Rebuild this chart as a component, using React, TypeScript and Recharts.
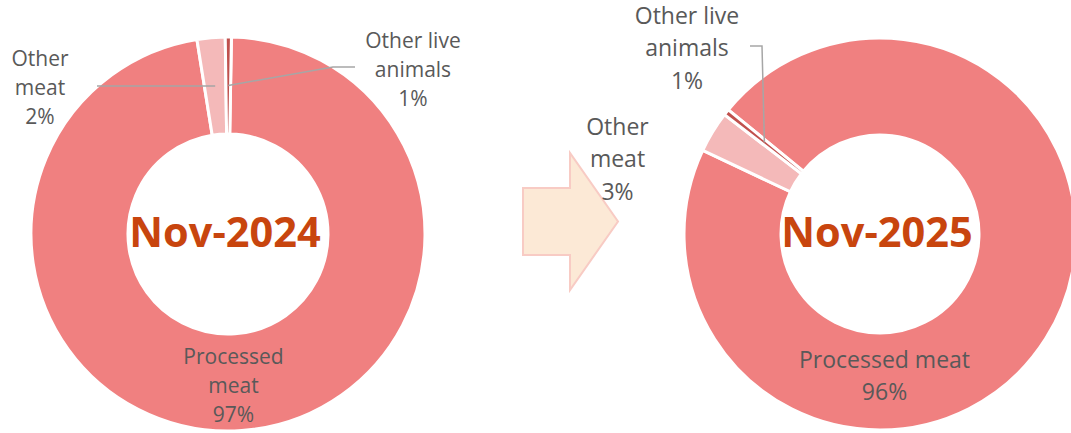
import { Cell, Pie, PieChart } from "recharts";

// share of each product group, in %
const categories = ["Processed meat", "Other meat", "Other live animals"];
const shares2024 = [97.2, 2.3, 0.5];
const shares2025 = [96.1, 3.4, 0.5];
const periods = ["Nov-2024", "Nov-2025"];
const COLORS = ["#F08080", "#F4B9B9", "#C0504D"];

const RAD = Math.PI / 180;
const W = 1071;
const H = 433;

interface LabelSpec {
  dx: number;
  dy: number;
  breakAfter: number;
  leader: number[][];
}
interface DonutLayout {
  cx: number;
  cy: number;
  inner: number;
  outer: number;
  start: number;
  fontSize: number;
  gap: number;
  labels: LabelSpec[];
}

const layout2024: DonutLayout = {
  cx: 228,
  cy: 234,
  inner: 100,
  outer: 197,
  start: 89,
  fontSize: 21,
  gap: 29,
  labels: [
    { dx: 5.5, dy: 151, breakAfter: 1, leader: [] },
    { dx: -188, dy: -147, breakAfter: 1, leader: [[-131, -148]] },
    { dx: 185, dy: -165.5, breakAfter: 2, leader: [[105, -167], [127, -167]] },
  ],
};

const layout2025: DonutLayout = {
  cx: 880,
  cy: 234,
  inner: 99,
  outer: 196,
  start: 140.7,
  fontSize: 23,
  gap: 32.5,
  labels: [
    { dx: 4.5, dy: 141, breakAfter: 0, leader: [] },
    { dx: -262.5, dy: -76, breakAfter: 1, leader: [] },
    { dx: -193, dy: -187, breakAfter: 2, leader: [[-118, -188], [-130, -188]] },
  ],
};

const toRows = (values: number[]) =>
  categories.map((name, i) => ({ name, value: values[i] }));

const makeLabel = (lay: DonutLayout, title: string) => (props: any) => {
  const { cx, cy, midAngle, innerRadius, outerRadius, index, name } = props;
  const value = props.value ?? props.payload?.value;
  const spec = lay.labels[index];
  const r = (innerRadius + outerRadius) / 2;
  const ax = cx + r * Math.cos(-midAngle * RAD);
  const ay = cy + r * Math.sin(-midAngle * RAD);
  const words = String(name).split(" ");
  const lines =
    spec.breakAfter > 0
      ? [words.slice(0, spec.breakAfter).join(" "), words.slice(spec.breakAfter).join(" ")]
      : [words.join(" ")];
  lines.push(`${Math.round(value)}%`);
  const tx = cx + spec.dx;
  const ty = cy + spec.dy;
  const pts = [[ax, ay], ...spec.leader.map(([x, y]) => [cx + x, cy + y])];
  return (
    <g>
      {spec.leader.length > 0 && (
        <polyline
          points={pts.map((p) => p.join(",")).join(" ")}
          fill="none"
          stroke="#A6A6A6"
          strokeWidth={1.5}
        />
      )}
      {lines.map((line, i) => (
        <text
          key={i}
          x={tx}
          y={ty + (i - (lines.length - 1) / 2) * lay.gap}
          textAnchor="middle"
          dominantBaseline="central"
          fill="#595959"
          fontSize={lay.fontSize}
          fontFamily="'Open Sans', sans-serif"
        >
          {line}
        </text>
      ))}
      {index === 0 && (
        <text
          x={cx - 3}
          y={cy - 3}
          textAnchor="middle"
          dominantBaseline="central"
          fill="#C8450E"
          fontSize={41.5}
          fontWeight="bold"
          fontFamily="'Open Sans', sans-serif"
        >
          {title}
        </text>
      )}
    </g>
  );
};

const Donut = (lay: DonutLayout, values: number[], title: string) => (
  <Pie
    data={toRows(values)}
    dataKey="value"
    nameKey="name"
    cx={lay.cx}
    cy={lay.cy}
    innerRadius={lay.inner}
    outerRadius={lay.outer}
    startAngle={lay.start}
    endAngle={lay.start - 360}
    stroke="#ffffff"
    strokeWidth={3}
    label={makeLabel(lay, title)}
    labelLine={false}
    isAnimationActive={false}
  >
    {values.map((_, index) => (
      <Cell key={`cell-${index}`} fill={COLORS[index % COLORS.length]} />
    ))}
  </Pie>
);

export default function App() {
  return (
    <div style={{ position: "absolute", left: 0, top: 0, width: W, height: H, background: "#fff" }}>
      {/* arrow between the two periods */}
      <svg width={W} height={H} style={{ position: "absolute", left: 0, top: 0 }}>
        <polygon
          points="523,188 570,188 570,153 618,221.5 570,290 570,255 523,255"
          fill="#FCE9D6"
          stroke="#F8CBC4"
          strokeWidth={2}
        />
      </svg>
      <div style={{ position: "absolute", left: 0, top: 0 }}>
        <PieChart width={W} height={H} margin={{ top: 0, right: 0, bottom: 0, left: 0 }}>
          {Donut(layout2024, shares2024, periods[0])}
          {Donut(layout2025, shares2025, periods[1])}
        </PieChart>
      </div>
    </div>
  );
}
